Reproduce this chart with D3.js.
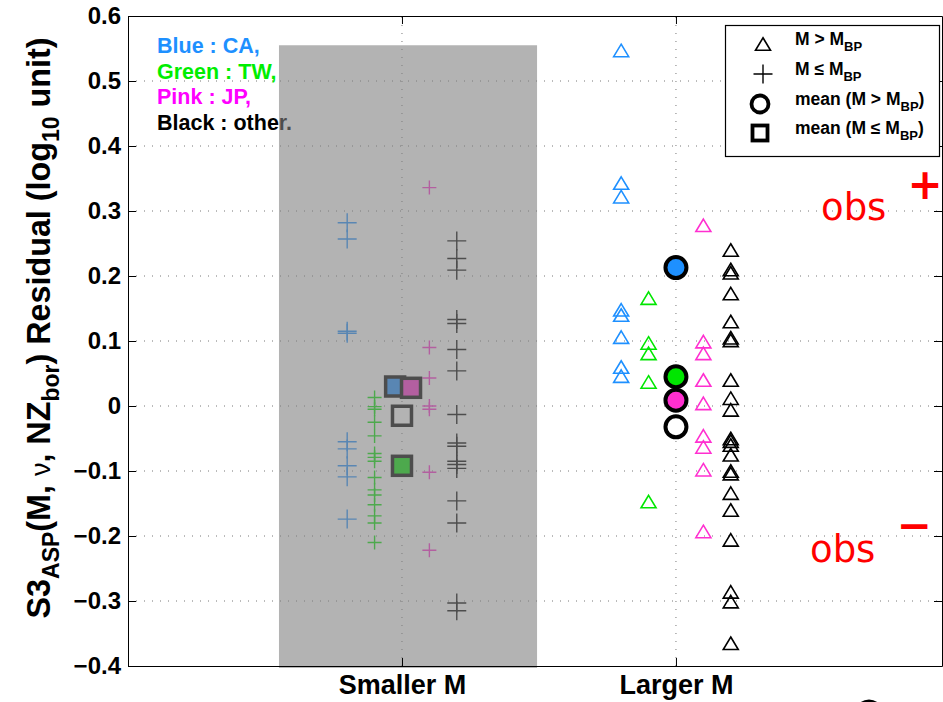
<!DOCTYPE html>
<html><head><meta charset="utf-8">
<script src="https://cdn.jsdelivr.net/npm/d3@7"></script>
<style>html,body{margin:0;padding:0;background:#fff;overflow:hidden}</style>
</head><body>
<script>
// ---------- data ----------
const categories = ["Smaller M", "Larger M"];
const yTickValues = [-0.4, -0.3, -0.2, -0.1, 0, 0.1, 0.2, 0.3, 0.4, 0.5, 0.6];
const yTickLabels = ["\u22120.4", "\u22120.3", "\u22120.2", "\u22120.1", "0", "0.1", "0.2", "0.3", "0.4", "0.5", "0.6"];

// M <= M_BP (crosses, "Smaller M")
const smallCA = [0.282, 0.257, 0.115, 0.112, -0.055, -0.066, -0.092, -0.109, -0.174];
const smallTW = [0.013, -0.001, -0.005, -0.025, -0.046, -0.073, -0.079, -0.085, -0.110, -0.129, -0.137, -0.152, -0.169, -0.180, -0.210];
const smallJP = [0.336, 0.090, 0.043, 0.000, -0.005, -0.102, -0.222];
const smallOther = [0.254, 0.227, 0.209, 0.133, 0.127, 0.087, 0.054, -0.013, -0.057, -0.062, -0.085, -0.090, -0.096, -0.146, -0.180, -0.303, -0.315];

// M > M_BP (triangles, "Larger M")
const largeCA = [0.547, 0.343, 0.322, 0.148, 0.140, 0.106, 0.060, 0.046];
const largeTW = [0.166, 0.097, 0.081, 0.037, -0.147];
const largeJP = [0.278, 0.099, 0.081, 0.040, 0.004, -0.046, -0.063, -0.098, -0.193];
const largeOther = [0.240, 0.210, 0.205, 0.173, 0.130, 0.105, 0.101, 0.040, 0.012, -0.006, -0.050, -0.054, -0.060, -0.075, -0.100, -0.104, -0.134, -0.160, -0.206, -0.286, -0.301, -0.365];

// group means
const meanSmall = {CA: 0.030, TW: -0.092, JP: 0.028, other: -0.015};
const meanLarge = {CA: 0.213, TW: 0.045, JP: 0.009, other: -0.032};

// shaded band (data units)
const bandX = [0.551, 1.493];
const bandY = [-0.403, 0.555];

// ---------- styles ----------
const COL = {CA: "#1e90ff", TW: "#00e600", JP: "#ff2fd0", other: "#000000"};
const TXTCOL = {CA: "#1e90ff", TW: "#00ee00", JP: "#ff00ff", other: "#000000"};
const OFF = {CA: -0.2, TW: -0.1, JP: 0.1, other: 0.2};
const CROSS = {CA: 19, TW: 14, JP: 14, other: 19};

const W = 943, H = 702;
const svg = d3.select("body").append("svg").attr("width", W).attr("height", H)
  .style("font-family", "'Liberation Sans', Arial, Helvetica, sans-serif");

const x = d3.scaleLinear().domain([0, 2.971]).range([128, 942]);
const y = d3.scaleLinear().domain([-0.4, 0.6]).range([666, 16]);

// gridlines
const grid = svg.append("g").attr("stroke", "#777").attr("stroke-width", 1).attr("stroke-dasharray", "1,7");
grid.selectAll(".gy").data(yTickValues.slice(1, -1)).join("line")
  .attr("x1", x(0)).attr("x2", x(2.971)).attr("y1", d => y(d)).attr("y2", d => y(d));
grid.selectAll(".gx").data([1, 2]).join("line")
  .attr("x1", d => x(d)).attr("x2", d => x(d)).attr("y1", y(-0.4)).attr("y2", y(0.6));

// colour key text
const keyLines = [["CA", "Blue : CA,"], ["TW", "Green : TW,"], ["JP", "Pink : JP,"], ["other", "Black : other."]];
svg.append("g").selectAll("text").data(keyLines).join("text")
  .attr("x", 157).attr("y", (d, i) => 53 + i * 25.7)
  .attr("font-size", 21.5).attr("font-weight", "bold")
  .attr("fill", d => TXTCOL[d[0]]).text(d => d[1]);

const crossPath = s => { const h = s / 2; return `M${-h},0H${h}M0,${-h}V${h}`; };
const triPath = (w, h) => `M0,${-h / 2}L${w / 2},${h / 2}L${-w / 2},${h / 2}Z`;

// crosses (smaller M)
const small = {CA: smallCA, TW: smallTW, JP: smallJP, other: smallOther};
const large = {CA: largeCA, TW: largeTW, JP: largeJP, other: largeOther};
const pts = svg.append("g");
for (const k of ["CA", "TW", "JP", "other"]) {
  pts.append("g").selectAll("path").data(small[k]).join("path")
    .attr("transform", d => `translate(${x(1 + OFF[k])},${y(d)})`)
    .attr("d", crossPath(CROSS[k])).attr("fill", "none")
    .attr("stroke", COL[k]).attr("stroke-width", 1.4);
}
// triangles (larger M)
for (const k of ["CA", "TW", "JP", "other"]) {
  pts.append("g").selectAll("path").data(large[k]).join("path")
    .attr("transform", d => `translate(${x(2 + OFF[k])},${y(d)})`)
    .attr("d", triPath(15, 12.5)).attr("fill", "none")
    .attr("stroke", COL[k]).attr("stroke-width", 1.6).attr("stroke-linejoin", "miter");
}

// mean squares (smaller M)
const sqOff = {CA: -0.025, JP: 0.033, TW: 0, other: 0};
const sqOrder = ["CA", "JP", "other", "TW"];
svg.append("g").selectAll("rect").data(sqOrder).join("rect")
  .attr("x", k => x(1 + sqOff[k]) - 9.5).attr("y", k => y(meanSmall[k]) - 9.5)
  .attr("width", 19).attr("height", 19)
  .attr("fill", k => k === "other" ? "#fff" : COL[k])
  .attr("stroke", "#000").attr("stroke-width", 3.5);

// mean circles (larger M)
const ciOrder = ["CA", "TW", "JP", "other"];
svg.append("g").selectAll("circle").data(ciOrder).join("circle")
  .attr("cx", x(2)).attr("cy", k => y(meanLarge[k])).attr("r", 10.5)
  .attr("fill", k => k === "other" ? "#fff" : COL[k])
  .attr("stroke", "#000").attr("stroke-width", 4);

// translucent grey band over the smaller-M region
svg.append("rect")
  .attr("x", x(bandX[0])).attr("y", y(bandY[1]))
  .attr("width", x(bandX[1]) - x(bandX[0])).attr("height", y(bandY[0]) - y(bandY[1]))
  .attr("fill", "#808080").attr("fill-opacity", 0.6);

// axes
function styleAxis(g) {
  g.select(".domain").attr("stroke", "#000").attr("stroke-width", 1);
  g.selectAll(".tick line").attr("stroke", "#000").attr("stroke-width", 1);
}
svg.append("g").attr("transform", `translate(${x(0)},0)`)
  .call(d3.axisLeft(y).tickValues(yTickValues).tickSizeInner(-8).tickSizeOuter(0).tickPadding(7)
    .tickFormat((d, i) => yTickLabels[i]))
  .call(styleAxis)
  .call(g => g.selectAll("text").attr("font-size", 24).attr("font-weight", "bold").attr("fill", "#000")
    .attr("font-family", "'Liberation Sans', Arial, sans-serif"));
svg.append("g").attr("transform", `translate(${x(2.971)},0)`)
  .call(d3.axisRight(y).tickValues(yTickValues).tickSizeInner(-8).tickSizeOuter(0).tickFormat(""))
  .call(styleAxis);
svg.append("g").attr("transform", `translate(0,${y(-0.4)})`)
  .call(d3.axisBottom(x).tickValues([1, 2]).tickSizeInner(-8).tickSizeOuter(0).tickPadding(9)
    .tickFormat((d, i) => categories[i]))
  .call(styleAxis)
  .call(g => g.selectAll("text").attr("font-size", 27).attr("font-weight", "bold").attr("fill", "#000")
    .attr("font-family", "'Liberation Sans', Arial, sans-serif"));
svg.append("g").attr("transform", `translate(0,${y(0.6)})`)
  .call(d3.axisTop(x).tickValues([1, 2]).tickSizeInner(-8).tickSizeOuter(0).tickFormat(""))
  .call(styleAxis);

// y-axis label
const yl = svg.append("text").attr("transform", "translate(50,328) rotate(-90)")
  .attr("text-anchor", "middle").attr("font-size", 32.3).attr("font-weight", "bold").attr("fill", "#000");
const parts = [
  ["S3", 0], ["ASP", -1], ["(M, ", 1], ["\u03bd", 2], [", NZ", 1], ["bor", -1], [") Residual (log", 1], ["10", -1], [" unit)", 1]
];
let prevSub = false;
parts.forEach(([t, m]) => {
  const ts = yl.append("tspan").text(t);
  if (m === -1) { ts.attr("font-size", 23).attr("dy", prevSub ? 0 : 9); prevSub = true; }
  else { ts.attr("dy", prevSub ? -9 : 0); prevSub = false; if (m === 2) ts.attr("font-weight", "normal").attr("font-size", 27); }
});

// legend
const lg = svg.append("g");
lg.append("rect").attr("x", 725.5).attr("y", 25.5).attr("width", 214).attr("height", 131)
  .attr("fill", "#fff").attr("stroke", "#000").attr("stroke-width", 1.2);
const legendRows = [
  {sym: "tri", y: 44, pre: "M > M", post: ""},
  {sym: "cross", y: 74, pre: "M \u2264 M", post: ""},
  {sym: "circle", y: 104, pre: "mean (M > M", post: ")"},
  {sym: "square", y: 133, pre: "mean (M \u2264 M", post: ")"}
];
legendRows.forEach(r => {
  const sx = 763;
  if (r.sym === "tri") lg.append("path").attr("transform", `translate(${sx},${r.y})`).attr("d", triPath(15, 12.5))
    .attr("fill", "none").attr("stroke", "#000").attr("stroke-width", 1.6);
  if (r.sym === "cross") lg.append("path").attr("transform", `translate(${sx},${r.y})`).attr("d", crossPath(19))
    .attr("fill", "none").attr("stroke", "#000").attr("stroke-width", 1.4);
  if (r.sym === "circle") lg.append("circle").attr("cx", sx - 3).attr("cy", r.y).attr("r", 8.5)
    .attr("fill", "#fff").attr("stroke", "#000").attr("stroke-width", 3.8);
  if (r.sym === "square") lg.append("rect").attr("x", sx - 3 - 7.5).attr("y", r.y - 7.5).attr("width", 15).attr("height", 15)
    .attr("fill", "#fff").attr("stroke", "#000").attr("stroke-width", 3.8);
  const t = lg.append("text").attr("x", 795).attr("y", r.y + 1).attr("font-size", 17.5).attr("font-weight", "bold").attr("fill", "#000");
  t.append("tspan").text(r.pre);
  t.append("tspan").text("BP").attr("font-size", 13).attr("dy", 6);
  if (r.post) t.append("tspan").text(r.post).attr("dy", -6);
});

// red annotations
const ann = svg.append("g").attr("fill", "#ff0000").style("font-family", "'DejaVu Sans', sans-serif");
ann.append("text").attr("x", 821).attr("y", 220).attr("font-size", 37).text("obs");
ann.append("text").attr("x", 925).attr("y", 199).attr("text-anchor", "middle").attr("font-size", 42).attr("font-weight", "bold").text("+");
ann.append("text").attr("x", 810).attr("y", 562).attr("font-size", 37).text("obs");
ann.append("text").attr("x", 914).attr("y", 540).attr("text-anchor", "middle").attr("font-size", 42).attr("font-weight", "bold").text("\u2212");

// stray circle at bottom edge
svg.append("circle").attr("cx", 869).attr("cy", 714).attr("r", 13).attr("fill", "none").attr("stroke", "#000").attr("stroke-width", 3);
</script>
</body></html>
